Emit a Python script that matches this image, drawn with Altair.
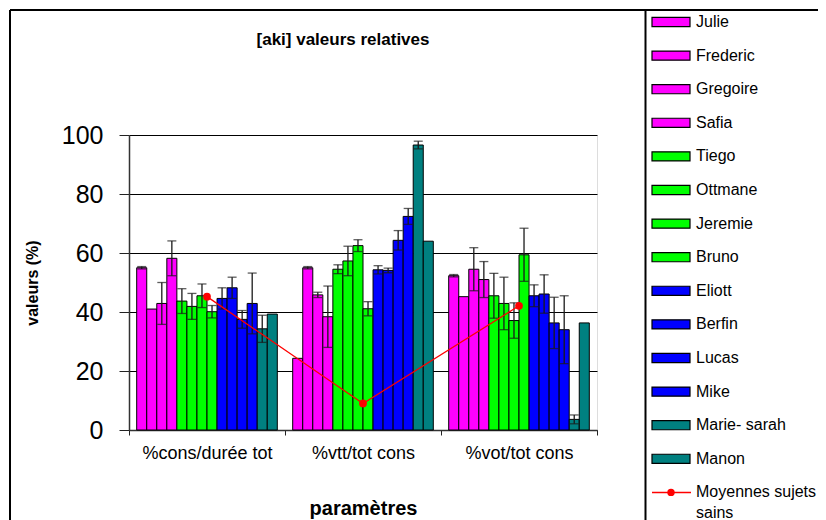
import altair as alt
import pandas as pd

# ---------------- data ----------------
categories = ["%cons/durée tot", "%vtt/tot cons", "%vot/tot cons"]
names = ["Julie", "Frederic", "Gregoire", "Safia", "Tiego", "Ottmane", "Jeremie",
         "Bruno", "Eliott", "Berfin", "Lucas", "Mike", "Marie- sarah", "Manon"]
colors = ["#FF00FF"] * 4 + ["#00FF00"] * 4 + ["#0000FF"] * 4 + ["#008080"] * 2

cons_vals = [55.0, 41.0, 42.9, 58.2, 43.7, 41.9, 45.5, 40.1, 44.6, 48.2, 37.5, 42.9, 34.3, 39.3]
cons_err = [0.4, 0, 7.1, 5.9, 4.2, 4.4, 4.0, 2.1, 3.6, 3.6, 3.0, 10.3, 4.6, 0]
vtt_vals = [24.3, 55.0, 45.8, 38.4, 54.5, 57.3, 62.5, 41.1, 54.3, 54.1, 64.3, 72.4, 96.6, 64.0]
vtt_err = [0, 0.4, 0.9, 10.4, 1.5, 5.0, 2.0, 2.4, 1.4, 0.8, 3.3, 2.7, 1.3, 0]
vot_vals = [52.3, 45.2, 54.5, 51.0, 45.5, 42.9, 37.1, 59.4, 45.5, 46.1, 36.3, 34.0, 3.6, 36.3]
vot_err = [0.4, 0, 7.3, 6.1, 7.6, 8.9, 6.0, 9.0, 3.7, 6.5, 8.7, 11.5, 1.5, 0]

means = [45.2, 9.0, 42.1]
mean_label_lines = ["Moyennes sujets", "sains"]
title_text = "[aki] valeurs relatives"
x_title = "paramètres"
y_title = "valeurs (%)"
y_ticks = [0, 20, 40, 60, 80, 100]

# ---------------- tables ----------------
rows = []
for cat, vals, errs in zip(categories, [cons_vals, vtt_vals, vot_vals],
                           [cons_err, vtt_err, vot_err]):
    for n, v, e in zip(names, vals, errs):
        rows.append(dict(cat=cat, name=n, value=v, err=e, lo=v - e, hi=v + e))
df = pd.DataFrame(rows)
err_df = df[df.err > 0]
mean_df = pd.DataFrame({"cat": categories, "mean": means, "order": [0, 1, 2]})

leg_df = pd.DataFrame({"name": names, "label": names, "idx": list(range(len(names)))})
moy_idx = len(names)
moy_df = pd.DataFrame({"idx": [moy_idx]})
moy_lab_df = pd.DataFrame({"label": mean_label_lines,
                           "idx": [moy_idx + 0.62 * i for i in range(len(mean_label_lines))]})

FONT = "Liberation Sans"
W, H = 468, 295

x_scale = alt.Scale(domain=categories, paddingInner=0, paddingOuter=0)
x_enc = alt.X("cat:N", sort=categories, scale=x_scale,
              axis=alt.Axis(title=x_title, labelAngle=0, tickBand="extent",
                            labelFontSize=18, labelFont=FONT, labelColor="black",
                            labelPadding=9, tickSize=5, tickColor="#222",
                            domainColor="#333", domainWidth=1.5,
                            titleFont=FONT, titleFontSize=20, titleFontWeight="bold",
                            titleX=234, titleY=78, titleBaseline="middle",
                            titleColor="black"))
x_plain = alt.X("cat:N", sort=categories, scale=x_scale)
xo_enc = alt.XOffset("name:N", sort=names,
                     scale=alt.Scale(domain=names, paddingOuter=0.767, paddingInner=0))
y_scale = alt.Scale(domain=[0, 100], nice=False)
fill_enc = alt.Fill("name:N", sort=names,
                    scale=alt.Scale(domain=names, range=colors), legend=None)

bars = alt.Chart(df).mark_bar(stroke="black", strokeWidth=1).encode(
    x=x_enc, xOffset=xo_enc,
    y=alt.Y("value:Q", scale=y_scale,
            axis=alt.Axis(values=y_ticks, title=y_title, grid=True,
                          gridColor="black", gridWidth=1,
                          labelFontSize=25, labelFont=FONT, labelColor="black",
                          labelPadding=16, tickSize=10, tickColor="#222",
                          domainColor="#333", domainWidth=1.5,
                          titleFont=FONT, titleFontSize=16, titleFontWeight="bold",
                          titleX=-97, titleY=H / 2, titleAngle=-90,
                          titleAlign="center", titleBaseline="middle",
                          titleColor="black")),
    fill=fill_enc,
)
err_rule = alt.Chart(err_df).mark_rule(color="#1a1a1a", strokeWidth=1.3).encode(
    x=x_plain, xOffset=xo_enc, y=alt.Y("lo:Q", scale=y_scale), y2="hi:Q")
cap_hi = alt.Chart(err_df).mark_tick(color="#1a1a1a", thickness=1.3, size=9).encode(
    x=x_plain, xOffset=xo_enc, y=alt.Y("hi:Q", scale=y_scale))
cap_lo = alt.Chart(err_df).mark_tick(color="#1a1a1a", thickness=1.3, size=9).encode(
    x=x_plain, xOffset=xo_enc, y=alt.Y("lo:Q", scale=y_scale))
mean_line = alt.Chart(mean_df).mark_line(color="red", strokeWidth=1.3).encode(
    x=x_plain, y=alt.Y("mean:Q", scale=y_scale), order="order:Q")
mean_pts = alt.Chart(mean_df).mark_point(filled=True, color="red", size=60, opacity=1).encode(
    x=x_plain, y=alt.Y("mean:Q", scale=y_scale))

main = alt.layer(bars, err_rule, cap_hi, cap_lo, mean_line, mean_pts)

# ---------------- legend (drawn from data) ----------------
leg_step = 33.6
leg_top = 22 - 135  # first entry, relative to the plot area
d0 = -leg_top / leg_step
d1 = d0 + H / leg_step
leg_y = alt.Y("idx:Q", scale=alt.Scale(domain=[d0, d1], reverse=True, nice=False, zero=False),
              axis=None)

swatches = alt.Chart(leg_df).mark_point(
    shape="M-1,-0.24H1V0.24H-1Z", size=1444, filled=True, stroke="black",
    strokeWidth=1.2, opacity=1).encode(x=alt.value(542), y=leg_y, fill=fill_enc)
labels = alt.Chart(leg_df).mark_text(align="left", baseline="middle", fontSize=16,
                                     font=FONT, color="black").encode(
    x=alt.value(567), y=leg_y, text="label:N")
moy_rule = alt.Chart(moy_df).mark_rule(color="red", strokeWidth=1.5).encode(
    x=alt.value(523), x2=alt.value(562), y=leg_y)
moy_pt = alt.Chart(moy_df).mark_point(filled=True, color="red", size=55, opacity=1).encode(
    x=alt.value(542), y=leg_y)
moy_lab = alt.Chart(moy_lab_df).mark_text(align="left", baseline="middle", fontSize=16,
                                          font=FONT, color="black").encode(
    x=alt.value(567), y=leg_y, text="label:N")
legend = alt.layer(swatches, labels, moy_rule, moy_pt, moy_lab)

# ---------------- frame and title ----------------
one = alt.Data(values=[{"k": 0}])
frame_left = alt.Chart(one).mark_rule(color="black", strokeWidth=2).encode(
    x=alt.value(-119), y=alt.value(-125), y2=alt.value(400))
frame_top = alt.Chart(one).mark_rule(color="black", strokeWidth=2).encode(
    x=alt.value(-119), x2=alt.value(700), y=alt.value(-125))
frame_leg = alt.Chart(one).mark_rule(color="black", strokeWidth=2).encode(
    x=alt.value(516.5), y=alt.value(-125), y2=alt.value(400))
title = alt.Chart(one).mark_text(fontSize=17, fontWeight="bold", font=FONT,
                                 color="black").encode(
    x=alt.value(214), y=alt.value(-95), text=alt.value(title_text))
deco = alt.layer(frame_left, frame_top, frame_leg, title)

chart = alt.layer(main, legend, deco).resolve_scale(y="independent").properties(
    width=W, height=H,
    autosize=alt.AutoSizeParams(type="none"),
    padding={"left": 121, "top": 127, "right": 221, "bottom": 90},
).configure_view(stroke="#808080", strokeWidth=2).configure(background="white")

chart.save("out.html", embed_options={"renderer": "svg", "actions": False})
